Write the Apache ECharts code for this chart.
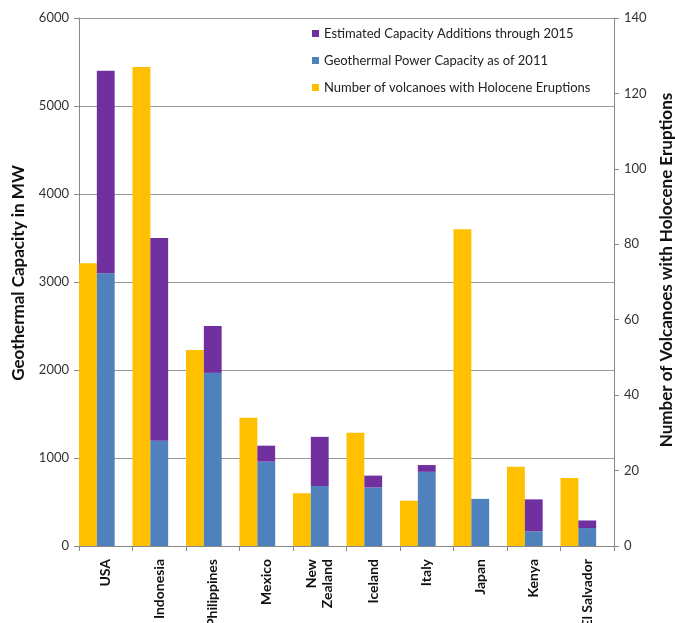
<!DOCTYPE html>
<html>
<head>
<meta charset="utf-8">
<script src="https://cdn.jsdelivr.net/npm/echarts@6/dist/echarts.min.js"></script>
<style>
html,body{margin:0;padding:0;background:#fff;}
#chart{width:675px;height:623px;}
</style>
</head>
<body>
<div id="chart"></div>
<script>
const categories = ['USA', 'Indonesia', 'Philippines', 'Mexico', 'New\nZealand', 'Iceland', 'Italy', 'Japan', 'Kenya', 'El Salvador'];
const capacity2011 = [3100, 1197, 1967, 958, 682, 665, 843, 536, 167, 204];
const additions2015 = [2300, 2303, 533, 182, 558, 135, 77, 0, 363, 86];
const volcanoes = [75, 127, 52, 34, 14, 30, 12, 84, 21, 18];
const leftTicks = [0, 6000, 1000];
const rightTicks = [0, 140, 20];

const FONT = 'Lato, "Open Sans", sans-serif';
const chart = echarts.init(document.getElementById('chart'), null, {renderer: 'canvas'});
chart.setOption({
  animation: false,
  textStyle: {fontFamily: FONT},
  grid: {left: 79, right: 61, top: 18, bottom: 77, containLabel: false, outerBoundsMode: 'none'},
  legend: {
    orient: 'vertical',
    left: 307,
    top: 22,
    itemWidth: 7,
    itemHeight: 7,
    itemGap: 14,
    icon: 'rect',
    data: ['Estimated Capacity Additions through 2015', 'Geothermal Power Capacity as of 2011', 'Number of volcanoes with Holocene Eruptions'],
    textStyle: {fontFamily: FONT, fontSize: 13, color: '#222'}
  },
  xAxis: {
    type: 'category',
    data: categories,
    axisLine: {lineStyle: {color: '#888'}},
    axisTick: {show: true, length: 5, lineStyle: {color: '#888'}},
    axisLabel: {rotate: 90, fontWeight: 'bold', fontSize: 14, color: '#111', margin: 13, fontFamily: FONT, lineHeight: 16}
  },
  yAxis: [
    {
      type: 'value', min: leftTicks[0], max: leftTicks[1], interval: leftTicks[2],
      name: 'Geothermal Capacity in MW', nameLocation: 'middle', nameGap: 52, nameRotate: 90,
      nameTextStyle: {fontWeight: 'bold', fontSize: 17, color: '#111', fontFamily: FONT, padding: [0, 0, 0, 18]},
      axisLine: {show: true, lineStyle: {color: '#888'}},
      axisTick: {show: true, length: 5, lineStyle: {color: '#888'}},
      axisLabel: {fontSize: 13, color: '#333', margin: 10, fontFamily: FONT, formatter: v => String(v)},
      splitLine: {show: true, lineStyle: {color: '#999', width: 1}}
    },
    {
      type: 'value', min: rightTicks[0], max: rightTicks[1], interval: rightTicks[2],
      name: 'Number of Volcanoes with Holocene Eruptions', nameLocation: 'middle', nameGap: 40, nameRotate: 90,
      nameTextStyle: {fontWeight: 'bold', fontSize: 17, color: '#111', fontFamily: FONT, padding: [0, 0, 0, 24]},
      axisLine: {show: true, lineStyle: {color: '#888'}},
      axisTick: {show: true, length: 5, lineStyle: {color: '#888'}},
      axisLabel: {fontSize: 13, color: '#333', margin: 10, fontFamily: FONT, formatter: v => String(v)},
      splitLine: {show: false}
    }
  ],
  series: [
    {
      name: 'Number of volcanoes with Holocene Eruptions', type: 'bar', yAxisIndex: 1,
      data: volcanoes, itemStyle: {color: '#FFC000'},
      barGap: '0%', barCategoryGap: '0%'
    },
    {
      name: 'Geothermal Power Capacity as of 2011', type: 'bar', yAxisIndex: 0, stack: 'cap',
      data: capacity2011, itemStyle: {color: '#4F81BD'}
    },
    {
      name: 'Estimated Capacity Additions through 2015', type: 'bar', yAxisIndex: 0, stack: 'cap',
      data: additions2015, itemStyle: {color: '#7030A0'}
    },
    {
      name: 'pad', type: 'bar', yAxisIndex: 0,
      data: categories.map(() => null), itemStyle: {color: 'transparent'}
    }
  ]
});
</script>
</body>
</html>
